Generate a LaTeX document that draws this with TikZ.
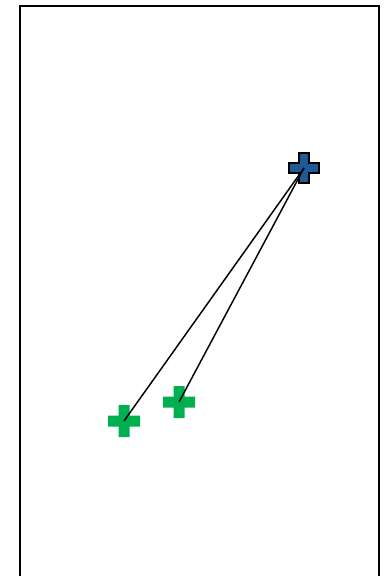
\documentclass[tikz,border=0pt]{standalone}
\definecolor{plusgreen}{HTML}{00B050}
\definecolor{plusblue}{HTML}{1F5A96}
\tikzset{
  pics/plusmark/.style={code={
    \path[pic actions] (-5.5,-16)--(5.5,-16)--(5.5,-5.5)--(16,-5.5)--(16,5.5)--(5.5,5.5)--(5.5,16)--(-5.5,16)--(-5.5,5.5)--(-16,5.5)--(-16,-5.5)--(-5.5,-5.5)--cycle;
  }},
  greenplus/.style={fill=plusgreen,draw=none},
  blueplus/.style={fill=plusblue,draw=black,line width=1.2pt,scale=0.95},
  link/.style={draw=black,line width=1.1pt},
  frame/.style={draw=black,line width=1.4pt}
}
\begin{document}
\begin{tikzpicture}[x=0.75pt,y=-0.75pt]
\useasboundingbox (0,0) rectangle (384,576);
\draw[frame] (20,580) -- (20,6) -- (379,6) -- (379,580);
\coordinate (B) at (304,168);
\coordinate (G1) at (124,421);
\coordinate (G2) at (179,402);
\pic[greenplus] at (G1) {plusmark};
\pic[greenplus] at (G2) {plusmark};
\pic[blueplus] at (B) {plusmark};
\draw[link] (G1) -- (B);
\draw[link] (G2) -- (B);
\end{tikzpicture}
\end{document}
